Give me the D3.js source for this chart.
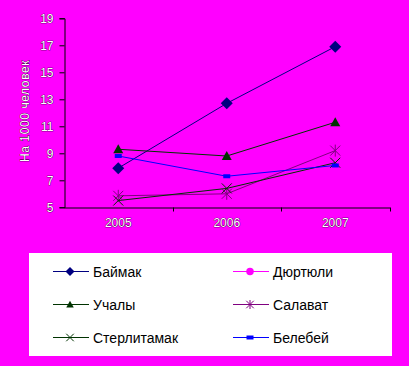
<!DOCTYPE html>
<html>
<head>
<meta charset="utf-8">
<script src="https://cdn.jsdelivr.net/npm/d3@7"></script>
<style>
  body { margin: 0; background: #ff00ff; }
  svg { display: block; }
  .ax text { fill: #fff; stroke: #000; stroke-width: 0.6px; paint-order: stroke; font-family: "Liberation Sans", Arial, sans-serif; font-size: 12px; }
</style>
</head>
<body>
<div id="chart"></div>
<script>
var years = ["2005", "2006", "2007"];
var yTicks = [5, 7, 9, 11, 13, 15, 17, 19];
var baymak = [7.9, 12.7, 16.9];
var dyurtyuli = [null, null, null];
var uchaly = [9.3, 8.8, 11.3];
var salavat = [5.85, 6.0, 9.2];
var sterlitamak = [5.5, 6.4, 8.3];
var belebey = [8.8, 7.3, 8.1];

var series = [
  {name: "Баймак", values: baymak, color: "#000080", marker: "diamond"},
  {name: "Дюртюли", values: dyurtyuli, color: "#ff00ff", marker: "circle"},
  {name: "Учалы", values: uchaly, color: "#003300", marker: "triangle"},
  {name: "Салават", values: salavat, color: "#800080", marker: "star"},
  {name: "Стерлитамак", values: sterlitamak, color: "#003300", marker: "cross"},
  {name: "Белебей", values: belebey, color: "#0000ff", marker: "square"}
];

var width = 409, height = 366;

var svg = d3.select("#chart").append("svg")
    .attr("width", width)
    .attr("height", height);

var x = d3.scaleBand()
    .domain(years)
    .range([64, 389.5]);

var y = d3.scaleLinear()
    .domain([5, 19])
    .range([207.3, 18.3]);

// axes
svg.append("g")
    .attr("class", "ax")
    .attr("transform", "translate(64.5,0)")
    .call(d3.axisLeft(y).tickValues(yTicks).tickSize(5).tickPadding(6))
    .call(function(g) { g.selectAll("line, path").attr("stroke", "#000"); });

var xg = svg.append("g")
    .attr("class", "ax")
    .attr("transform", "translate(0,207.5)")
    .call(d3.axisBottom(x).tickSize(0).tickPadding(11));
xg.select(".domain").attr("stroke", "#000");
xg.selectAll(".tick line").remove();
xg.selectAll(".bt")
    .data(years)
  .enter().append("line")
    .attr("x1", function(d) { return Math.round(x(d) + x.bandwidth()) + 0.5; })
    .attr("x2", function(d) { return Math.round(x(d) + x.bandwidth()) + 0.5; })
    .attr("y1", 0)
    .attr("y2", 4)
    .attr("stroke", "#000");

svg.append("text")
    .attr("transform", "translate(29,111) rotate(-90)")
    .attr("text-anchor", "middle")
    .attr("fill", "#fff")
    .attr("stroke", "#000")
    .attr("stroke-width", 0.6)
    .attr("paint-order", "stroke")
    .style("font-family", "'Liberation Sans', Arial, sans-serif")
    .style("font-size", "12px")
    .style("letter-spacing", "0.6px")
    .text("На 1000 человек");

function drawMarker(g, type, color, cx, cy, k) {
  k = k || 1;
  if (type == "diamond") {
    g.append("path").attr("d", "M0,-6L6,0L0,6L-6,0Z")
      .attr("transform", "translate(" + cx + "," + cy + ") scale(" + k + ")")
      .attr("fill", color);
  } else if (type == "triangle") {
    g.append("path").attr("d", "M0,-5L5,4L-5,4Z")
      .attr("transform", "translate(" + cx + "," + cy + ") scale(" + k + ")")
      .attr("fill", color);
  } else if (type == "circle") {
    g.append("circle").attr("cx", cx).attr("cy", cy).attr("r", 5 * k).attr("fill", color);
  } else if (type == "square") {
    g.append("rect").attr("x", cx - 3.5).attr("y", cy - 2).attr("width", 7).attr("height", 4).attr("fill", color);
  } else if (type == "star") {
    g.append("path").attr("d", "M-5,-5L5,5M5,-5L-5,5M0,-6V6")
      .attr("transform", "translate(" + cx + "," + cy + ") scale(" + k + ")")
      .attr("stroke", color).attr("stroke-width", 1 / k).attr("fill", "none");
  } else if (type == "cross") {
    g.append("path").attr("d", "M-5,-5L5,5M5,-5L-5,5")
      .attr("transform", "translate(" + cx + "," + cy + ") scale(" + k + ")")
      .attr("stroke", color).attr("stroke-width", 1 / k).attr("fill", "none");
  }
}

var line = d3.line()
    .defined(function(d) { return d != null; })
    .x(function(d, i) { return x(years[i]) + x.bandwidth() / 2; })
    .y(function(d) { return y(d); });

var plot = svg.append("g");
series.forEach(function(s) {
  plot.append("path")
      .datum(s.values)
      .attr("fill", "none")
      .attr("stroke", s.color)
      .attr("stroke-width", 1)
      .attr("d", line);
});
series.forEach(function(s) {
  s.values.forEach(function(v, i) {
    if (v == null) return;
    drawMarker(plot, s.marker, s.color, x(years[i]) + x.bandwidth() / 2, y(v));
  });
});

// legend
var lg = svg.append("g");
lg.append("rect")
    .attr("x", 29).attr("y", 253)
    .attr("width", 363).attr("height", 103)
    .attr("fill", "#fff");

series.forEach(function(s, i) {
  var col = i % 2, row = Math.floor(i / 2);
  var lx = col ? 233 : 53, ly = 271.5 + row * 33;
  lg.append("line")
      .attr("x1", lx).attr("x2", lx + 36)
      .attr("y1", ly).attr("y2", ly)
      .attr("stroke", s.color).attr("stroke-width", 1);
  drawMarker(lg, s.marker, s.color, lx + 17, ly, 0.75);
  lg.append("text")
      .attr("x", lx + 40)
      .attr("y", ly + 5)
      .style("font-family", "'Liberation Sans', Arial, sans-serif")
      .style("font-size", "14px")
      .attr("fill", "#000")
      .text(s.name);
});
</script>
</body>
</html>
